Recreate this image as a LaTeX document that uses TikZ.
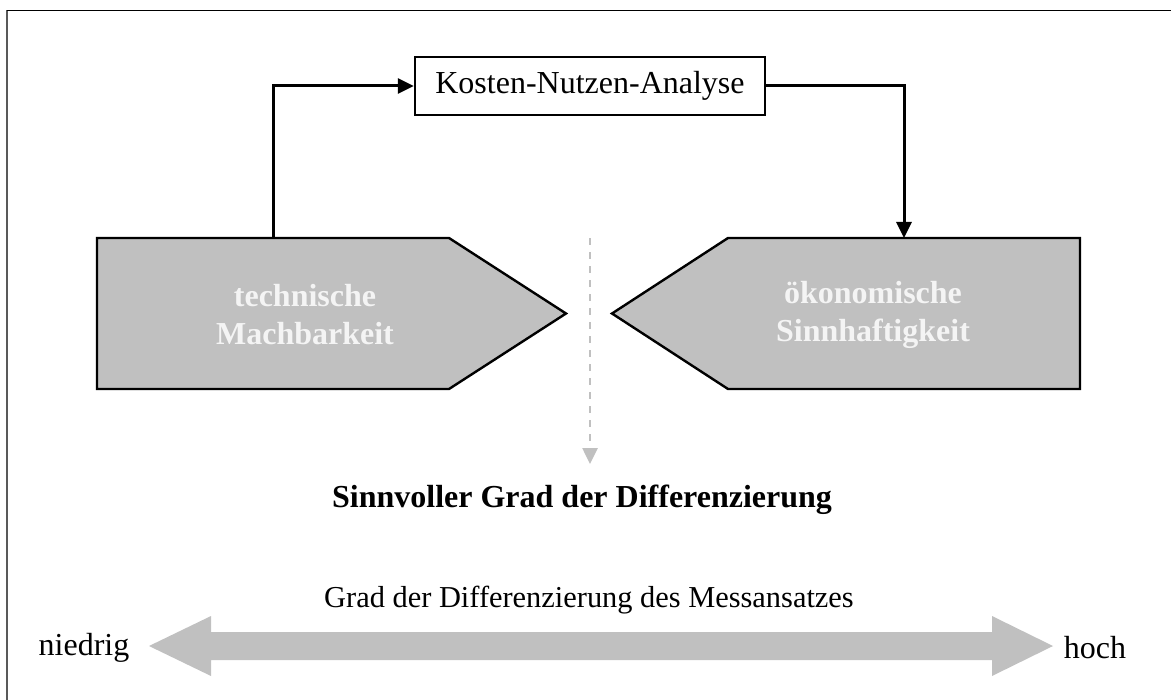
\documentclass[tikz,border=0pt]{standalone}
\usepackage{fontspec}
\setmainfont{Liberation Serif}
\usetikzlibrary{arrows.meta,positioning}
\definecolor{panel}{HTML}{C0C0C0}
\definecolor{paletext}{HTML}{F4F4F4}

\begin{document}
\begin{tikzpicture}[x=0.5pt,y=-0.5pt,line join=miter,
  font=\fontsize{16}{19}\selectfont,
  conn/.style={line width=1.5pt,-{Triangle[length=8pt,width=7.5pt]}},
  guide/.style={draw=panel,line width=1.3pt,dash pattern=on 3.5pt off 3.5pt,
    -{Triangle[length=8pt,width=7.5pt]}},
  pent/.style={fill=panel,draw=black,line width=1.2pt},
  pentlabel/.style={align=center,text=paletext,
    font=\fontsize{16}{19}\selectfont\bfseries}]
  \useasboundingbox (0,0) rectangle (1171,700);
  % open frame: left and top edge
  \draw[gray!70!black,line width=1pt] (6.5,700) -- (6.5,10.5);
  \draw[line width=0.7pt] (6.5,10.5) -- (1171,10.5);

  % cost-benefit box
  \node[draw,line width=1.2pt,minimum width=175pt,minimum height=29pt,
    inner sep=0pt] (kna) at (590,86) {Kosten-Nutzen-Analyse};

  % the two pointing panels
  \draw[pent] (97,238) -- (449,238) -- (566,313.5) -- (449,389) -- (97,389) -- cycle;
  \draw[pent] (1080,238) -- (728,238) -- (612,313.5) -- (728,389) -- (1080,389) -- cycle;
  \coordinate (tech-top) at (273,238);
  \coordinate (oeko-top) at (904,238);
  \node[pentlabel] (tech) at (305,315) {technische\\Machbarkeit};
  \node[pentlabel] (oeko) at (873,315) {ökonomische\\Sinnhaftigkeit};

  \draw[conn] (tech-top) |- (kna.west);
  \draw[conn] (kna.east) -| (oeko-top);

  % result in the middle
  \coordinate (mid-top) at (590,238);
  \coordinate (mid-end) at (590,464);
  \draw[guide] (mid-top) -- (mid-end);
  \node[font=\fontsize{16}{19}\selectfont\bfseries] (sinn) at (582,500)
    {Sinnvoller Grad der Differenzierung};

  % scale at the bottom
  \fill[panel] (149,646) -- (211,616) -- (211,632) -- (992,632) -- (992,616)
    -- (1053,646) -- (992,676) -- (992,660) -- (211,660) -- (211,676) -- cycle;
  \node[font=\fontsize{15.2}{18}\selectfont] (grad) at (589,600)
    {Grad der Differenzierung des Messansatzes};
  \node (niedrig) at (84,648) {niedrig};
  \node (hoch) at (1095,648) {hoch};
\end{tikzpicture}
\end{document}
